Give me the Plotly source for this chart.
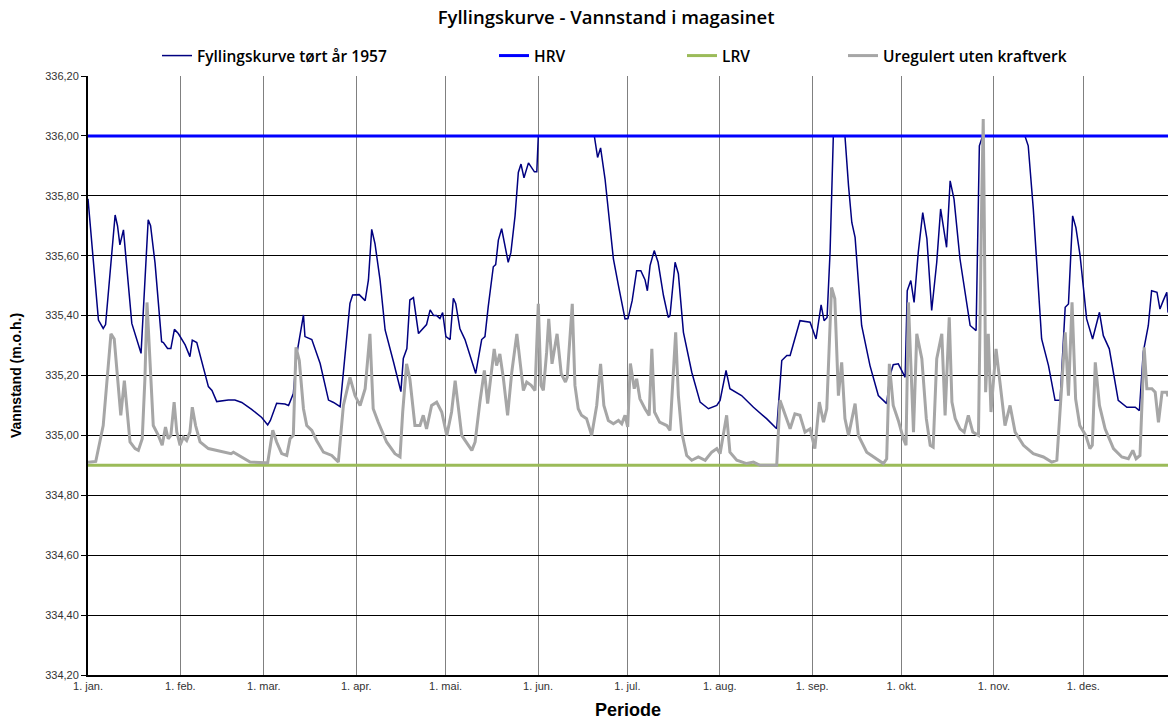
import plotly.graph_objects as go

# ---- data ----
title_text = "Fyllingskurve - Vannstand i magasinet"
month_days = [0, 31, 59, 90, 120, 151, 181, 212, 243, 273, 304, 334]
month_labels = ["1. jan.", "1. feb.", "1. mar.", "1. apr.", "1. mai.", "1. jun.",
                "1. jul.", "1. aug.", "1. sep.", "1. okt.", "1. nov.", "1. des."]

hrv_level = 336.00
lrv_level = 334.90
year_span = [0, 362.4]

fyll_days = [0, 3.5, 5.1, 5.9, 9.1, 9.9, 10.7, 11.9, 14.7, 17.8, 20.2, 21.0, 22.5, 24.7, 25.3,
             26.7, 27.8, 29.0, 30.3, 32.6, 34.2, 35.0, 36.5, 38.1, 40.4, 41.6, 43.2, 47.1, 49.3,
             51.6, 54.9, 58.3, 60.3, 61.2, 63.3, 66.1, 67.3, 68.9, 70.0, 72.3, 72.8, 75.1, 77.9,
             80.7, 82.4, 84.6, 86.2, 87.9, 88.8, 91.0, 93.0, 94.1, 95.2, 96.3, 98.0, 99.7, 102.5,
             105.0, 105.8, 107.0, 108.0, 109.2, 110.9, 112.5, 113.6, 114.8, 116.0, 117.0, 118.1,
             119.0, 120.1, 121.5, 122.6, 123.4, 124.8, 126.5, 130.1, 132.1, 133.2, 134.3, 136.0,
             136.8, 137.7, 138.8, 141.0, 141.9, 143.3, 144.4, 145.3, 146.3, 147.8, 149.8, 150.6,
             151.1, 169.9, 171.0, 172.0, 173.5, 176.3, 178.0, 180.2, 181.2, 182.6, 184.1, 185.5,
             186.9, 187.7, 188.6, 190.0, 191.3, 193.1, 194.7, 195.3, 197.0, 198.1, 199.8, 202.6,
             205.4, 208.2, 211.0, 212.1, 214.1, 215.4, 219.3, 223.3, 227.7, 231.1, 232.8, 234.5,
             235.6, 238.9, 242.3, 244.3, 246.0, 247.0, 248.0, 249.0, 250.1, 254.0, 255.2, 256.3,
             257.4, 259.6, 262.4, 265.2, 268.0, 269.1, 270.2, 271.9, 274.2, 274.9, 276.1, 277.2,
             278.6, 280.1, 281.5, 283.1, 284.8, 286.1, 288.1, 289.3, 290.6, 292.6, 296.0, 298.0,
             299.1, 300.2, 314.4, 315.5, 317.2, 320.0, 322.3, 324.5, 326.2, 327.9, 329.0, 330.4,
             331.5, 332.9, 335.1, 337.1, 339.4, 340.7, 342.7, 345.7, 348.6, 351.4, 352.8, 354.1,
             355.8, 356.9, 358.7, 359.7, 360.8, 362.0, 362.4]
fyll_vals = [335.79, 335.385, 335.357, 335.37, 335.736, 335.70, 335.636, 335.686, 335.374, 335.274,
             335.72, 335.70, 335.575, 335.313, 335.31, 335.29, 335.29, 335.354, 335.34, 335.302,
             335.263, 335.318, 335.31, 335.25, 335.163, 335.15, 335.113, 335.118, 335.118, 335.11,
             335.087, 335.06, 335.035, 335.05, 335.107, 335.105, 335.10, 335.14, 335.268, 335.402,
             335.33, 335.32, 335.24, 335.118, 335.11, 335.096, 335.252, 335.441, 335.469, 335.47,
             335.45, 335.519, 335.688, 335.64, 335.519, 335.352, 335.246, 335.146, 335.257, 335.29,
             335.452, 335.46, 335.34, 335.36, 335.37, 335.419, 335.40, 335.40, 335.39, 335.41,
             335.33, 335.32, 335.458, 335.44, 335.356, 335.32, 335.207, 335.32, 335.33, 335.43,
             335.563, 335.57, 335.652, 335.69, 335.578, 335.61, 335.733, 335.878, 335.906, 335.86,
             335.91, 335.88, 335.88, 336.0, 336.0, 335.928, 335.96, 335.856, 335.589, 335.50,
             335.389, 335.39, 335.45, 335.55, 335.55, 335.52, 335.483, 335.567, 335.617, 335.578,
             335.467, 335.394, 335.40, 335.578, 335.54, 335.344, 335.211, 335.111, 335.089, 335.10,
             335.117, 335.217, 335.156, 335.133, 335.094, 335.056, 335.022, 335.25, 335.267, 335.267,
             335.383, 335.378, 335.322, 335.436, 335.383, 335.394, 335.611, 336.0, 336.0, 335.833,
             335.711, 335.661, 335.367, 335.233, 335.133, 335.106, 335.20, 335.236, 335.239, 335.194,
             335.483, 335.517, 335.444, 335.611, 335.744, 335.656, 335.417, 335.578, 335.756, 335.628,
             335.85, 335.789, 335.589, 335.367, 335.35, 335.967, 336.0, 336.0, 335.967, 335.756,
             335.322, 335.233, 335.117, 335.117, 335.428, 335.439, 335.733, 335.694, 335.60, 335.389,
             335.322, 335.411, 335.333, 335.289, 335.117, 335.094, 335.094, 335.083, 335.278, 335.367,
             335.483, 335.478, 335.422, 335.45, 335.478, 335.41]

ureg_days = [0, 2.6, 5.1, 6.3, 7.7, 8.8, 10.2, 11.0, 12.2, 13.0, 14.1, 15.8, 16.9, 18.2, 19.1, 19.8,
             20.8, 21.9, 23.6, 24.9, 26.0, 26.9, 27.8, 28.9, 29.8, 30.9, 32.0, 33.1, 34.2, 35.0,
             36.1, 37.6, 40.4, 43.2, 46.0, 48.0, 48.8, 51.6, 54.4, 59.4, 60.3, 62.0, 63.3, 65.0,
             66.7, 67.8, 68.9, 69.8, 70.9, 72.3, 73.4, 75.1, 76.7, 79.0, 81.8, 84.0, 85.7, 87.9,
             89.6, 91.3, 93.0, 94.6, 95.7, 97.4, 100.2, 103.0, 104.7, 105.6, 106.9, 108.0, 109.7,
             111.4, 112.5, 113.6, 115.3, 117.0, 118.7, 120.4, 122.0, 123.2, 125.4, 128.8, 129.9,
             131.5, 133.0, 134.1, 135.5, 136.3, 137.1, 138.2, 139.4, 140.8, 142.2, 143.9, 145.0,
             146.1, 147.2, 148.7, 150.0, 151.1, 152.0, 152.8, 153.9, 154.6, 155.7, 157.4, 158.8,
             160.2, 160.8, 162.5, 163.4, 164.5, 165.6, 167.3, 169.0, 170.7, 172.0, 173.1, 174.6,
             176.3, 178.0, 179.1, 180.2, 181.1, 182.0, 183.3, 184.1, 185.2, 186.9, 188.3, 189.2,
             190.1, 191.8, 194.2, 195.3, 197.2, 198.1, 199.2, 200.9, 202.6, 204.8, 207.1, 209.3,
             211.0, 212.1, 214.3, 215.4, 217.7, 221.0, 223.3, 225.5, 231.1, 232.2, 233.9, 235.6,
             237.2, 238.9, 240.6, 242.3, 243.9, 245.4, 246.8, 247.9, 249.5, 250.6, 251.8, 252.9,
             254.0, 255.2, 257.4, 258.5, 261.3, 264.7, 266.9, 268.0, 268.9, 270.2, 271.9, 273.6,
             274.5, 275.3, 277.0, 278.1, 279.8, 281.3, 282.6, 283.6, 284.8, 286.5, 287.6, 289.0,
             289.9, 291.0, 292.6, 294.0, 295.4, 296.9, 298.8, 299.9, 300.4, 300.8, 301.2, 302.1,
             303.0, 304.7, 306.1, 307.7, 309.4, 311.1, 313.9, 317.2, 320.6, 323.4, 325.1, 326.4,
             327.9, 329.0, 330.2, 331.4, 332.8, 334.8, 336.2, 337.0, 338.0, 339.4, 341.3, 344.1,
             346.9, 349.1, 350.6, 351.7, 353.0, 354.4, 355.3, 357.0, 358.1, 359.2, 360.4, 362.0,
             362.4]
ureg_vals = [334.91, 334.913, 335.033, 335.189, 335.339, 335.322, 335.167, 335.067, 335.183, 335.10,
             334.978, 334.956, 334.95, 334.989, 335.189, 335.444, 335.233, 335.033, 335.0, 334.967,
             335.028, 334.989, 335.0, 335.111, 335.011, 334.967, 334.994, 334.983, 335.011, 335.094,
             335.033, 334.978, 334.956, 334.95, 334.944, 334.939, 334.944, 334.928, 334.911, 334.909,
             334.909, 335.017, 334.978, 334.939, 334.933, 334.989, 335.0, 335.294, 335.25, 335.089,
             335.033, 335.017, 334.983, 334.944, 334.933, 334.911, 335.10, 335.194, 335.133, 335.10,
             335.156, 335.339, 335.089, 335.044, 334.978, 334.939, 334.928, 335.078, 335.239, 335.189,
             335.033, 335.033, 335.067, 335.022, 335.10, 335.111, 335.078, 335.0, 335.078, 335.183,
             335.0, 334.95, 334.978, 335.111, 335.217, 335.106, 335.228, 335.289, 335.233, 335.272,
             335.189, 335.067, 335.211, 335.339, 335.244, 335.15, 335.178, 335.167, 335.15, 335.439,
             335.167, 335.15, 335.278, 335.389, 335.239, 335.339, 335.206, 335.178, 335.194, 335.439,
             335.167, 335.089, 335.067, 335.056, 335.0, 335.10, 335.239, 335.10, 335.05, 335.039,
             335.05, 335.039, 335.067, 335.028, 335.24, 335.156, 335.189, 335.122, 335.089, 335.067,
             335.289, 335.078, 335.044, 335.033, 335.017, 335.344, 335.133, 335.011, 334.933, 334.917,
             334.928, 334.917, 334.944, 334.956, 334.939, 335.067, 334.944, 334.917, 334.906, 334.911,
             334.90, 334.90, 335.117, 335.067, 335.022, 335.072, 335.067, 335.011, 335.022, 334.956,
             335.111, 335.044, 335.089, 335.494, 335.456, 335.133, 335.244, 335.056, 335.0, 335.106,
             335.0, 334.944, 334.922, 334.906, 334.922, 335.239, 335.10, 335.05, 334.989, 334.967,
             335.444, 335.011, 335.339, 335.256, 335.056, 334.967, 334.961, 335.256, 335.339, 335.067,
             335.394, 335.111, 335.056, 335.022, 335.011, 335.067, 335.011, 335.0, 335.789, 336.056,
             335.678, 335.144, 335.339, 335.078, 335.289, 335.167, 335.033, 335.10, 335.011, 334.967,
             334.939, 334.928, 334.911, 334.917, 335.122, 335.344, 335.133, 335.444, 335.122, 335.033,
             335.0, 334.956, 334.967, 335.244, 335.10, 335.022, 334.956, 334.928, 334.922, 334.95,
             334.922, 334.933, 335.294, 335.156, 335.156, 335.144, 335.044, 335.144, 335.144, 335.13]

y_ticks = [334.2, 334.4, 334.6, 334.8, 335.0, 335.2, 335.4, 335.6, 335.8, 336.0, 336.2]

# ---- figure ----
leg_font = dict(family="Open Sans", size=15.5, color="#000000", weight=600)

fig = go.Figure()
fig.add_trace(go.Scatter(x=fyll_days, y=fyll_vals, mode="lines", name="Fyllingskurve tørt år 1957",
                         line=dict(color="#000080", width=1.5), legend="legend"))
fig.add_trace(go.Scatter(x=year_span, y=[hrv_level, hrv_level], mode="lines", name="HRV",
                         line=dict(color="#0000FF", width=3), legend="legend2"))
fig.add_trace(go.Scatter(x=year_span, y=[lrv_level, lrv_level], mode="lines", name="LRV",
                         line=dict(color="#9BBB59", width=3), legend="legend3"))
fig.add_trace(go.Scatter(x=ureg_days, y=ureg_vals, mode="lines", name="Uregulert uten kraftverk",
                         line=dict(color="#A6A6A6", width=3), legend="legend4"))

W, H = 1170, 722
ml, mr, mt, mb = 88, 2, 76, 47
pw = W - ml - mr
ph = H - mt - mb


def lx(px):
    return (px - ml) / pw


def ly(py):
    return (H - mb - py) / ph


common_leg = dict(orientation="h", yanchor="middle", xanchor="left", font=leg_font,
                  bgcolor="rgba(0,0,0,0)", borderwidth=0)

fig.update_layout(
    width=W, height=H,
    margin=dict(l=ml, r=mr, t=mt, b=mb),
    paper_bgcolor="white", plot_bgcolor="white",
    separators=", ",
    title=dict(text=title_text, x=0.518, xanchor="center", y=1 - 18 / H, yanchor="middle",
               font=dict(family="Open Sans", size=18.5, color="#000000", weight=600)),
    legend=dict(x=lx(157), y=ly(56), **common_leg),
    legend2=dict(x=lx(494), y=ly(56), **common_leg),
    legend3=dict(x=lx(682), y=ly(56), **common_leg),
    legend4=dict(x=lx(843), y=ly(56), **common_leg),
    xaxis=dict(range=year_span, tickmode="array", tickvals=month_days, ticktext=month_labels,
               showgrid=True, gridcolor="#808080", gridwidth=1,
               showline=True, linecolor="#000000", linewidth=2, zeroline=False,
               ticks="", tickfont=dict(family="Liberation Sans", size=11, color="#333333"),
               title=dict(text="Periode", standoff=12,
                          font=dict(family="Liberation Sans", size=18, color="#000000", weight="bold"))),
    yaxis=dict(range=[334.2, 336.2], tickmode="array", tickvals=y_ticks, tickformat=".2f",
               showgrid=True, gridcolor="#000000", gridwidth=1,
               showline=True, linecolor="#000000", linewidth=2, zeroline=False,
               ticks="outside", ticklen=5, tickcolor="#000000",
               tickfont=dict(family="Liberation Sans", size=11, color="#333333"),
               title=dict(text="Vannstand (m.o.h.)", standoff=20,
                          font=dict(family="Liberation Sans", size=14, color="#000000", weight="bold"))),
    showlegend=True,
)

fig.write_html("out.html")
